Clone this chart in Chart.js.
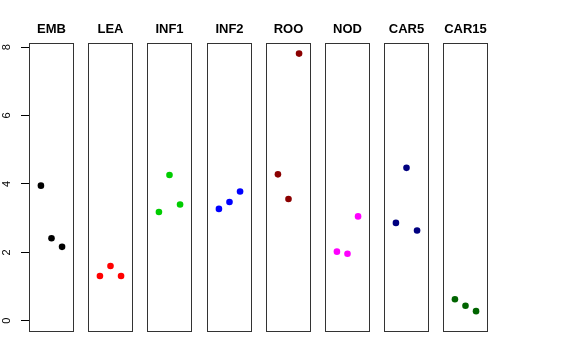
<!DOCTYPE html>
<html>
<head>
<meta charset="utf-8">
<script src="https://cdn.jsdelivr.net/npm/chart.js@4"></script>
<style>
  html, body { margin: 0; padding: 0; background: #fff; }
  #wrap { position: relative; width: 576px; height: 360px; }
  .panel { position: absolute; top: 0; height: 360px; }
</style>
</head>
<body>
<div id="wrap"></div>
<script>
const panels = ['EMB', 'LEA', 'INF1', 'INF2', 'ROO', 'NOD', 'CAR5', 'CAR15'];
const reps = [1, 2, 3];

const emb  = [3.95, 2.41, 2.16];
const lea  = [1.31, 1.60, 1.31];
const inf1 = [3.18, 4.26, 3.40];
const inf2 = [3.27, 3.47, 3.78];
const roo  = [4.28, 3.56, 7.81];
const nod  = [2.02, 1.96, 3.05];
const car5 = [2.86, 4.47, 2.64];
const car15 = [0.63, 0.44, 0.28];

const values = [emb, lea, inf1, inf2, roo, nod, car5, car15];
const colors = ['#000000', '#FF0000', '#00CD00', '#0000FF', '#8B0000', '#FF00FF', '#000080', '#006400'];
const yTicks = [0, 2, 4, 6, 8];

const font = "'Liberation Sans', Arial, Helvetica, sans-serif";

// box around each panel plus its bold title
const frame = {
  id: 'frame',
  afterDraw(chart) {
    const a = chart.chartArea;
    const c = chart.ctx;
    c.save();
    c.strokeStyle = '#333';
    c.lineWidth = 1;
    c.strokeRect(Math.round(a.left) + 0.5, Math.round(a.top) + 0.5,
                 Math.round(a.right - a.left) - 1, Math.round(a.bottom - a.top));
    c.fillStyle = '#000';
    c.font = 'bold 13px ' + font;
    c.textAlign = 'center';
    c.textBaseline = 'middle';
    c.fillText(chart.options.panelTitle, (a.left + a.right) / 2, a.top - 14);
    c.restore();
  }
};

const wrap = document.getElementById('wrap');
const axisW = 29;
const boxW = 45;
const side = 8;

panels.forEach((name, i) => {
  const first = i === 0;
  const left = 29 + i * 59.2;
  const div = document.createElement('div');
  div.className = 'panel';
  const l = first ? 0 : Math.round(left) - side;
  const w = first ? axisW + boxW + side : boxW + 2 * side;
  div.style.left = l + 'px';
  div.style.width = w + 'px';
  const cv = document.createElement('canvas');
  cv.width = w;
  cv.height = 360;
  div.appendChild(cv);
  wrap.appendChild(div);

  new Chart(cv, {
    type: 'scatter',
    data: {
      datasets: [{
        data: reps.map((r, k) => ({ x: r, y: values[i][k] })),
        backgroundColor: colors[i],
        borderColor: colors[i],
        pointRadius: 3.3,
        pointBorderWidth: 0
      }]
    },
    plugins: [frame],
    options: {
      panelTitle: name,
      responsive: false,
      animation: false,
      layout: { padding: { top: 43, bottom: 29, left: first ? 0 : side, right: side } },
      plugins: { legend: { display: false }, tooltip: { enabled: false }, title: { display: false } },
      scales: {
        x: { type: 'linear', min: -0.13, max: 4.13, display: false },
        y: {
          type: 'linear',
          min: -0.3,
          max: 8.12,
          display: first,
          afterFit(scale) { if (first) scale.width = axisW; },
          afterBuildTicks(scale) { scale.ticks = yTicks.map(v => ({ value: v })); },
          border: { display: false },
          grid: { drawOnChartArea: false, tickLength: 8, color: '#000', tickColor: '#000' },
          ticks: {
            minRotation: 90,
            maxRotation: 90,
            crossAlign: 'center',
            padding: 11,
            color: '#000',
            font: { family: font, size: 11 }
          }
        }
      }
    }
  });
});
</script>
</body>
</html>
